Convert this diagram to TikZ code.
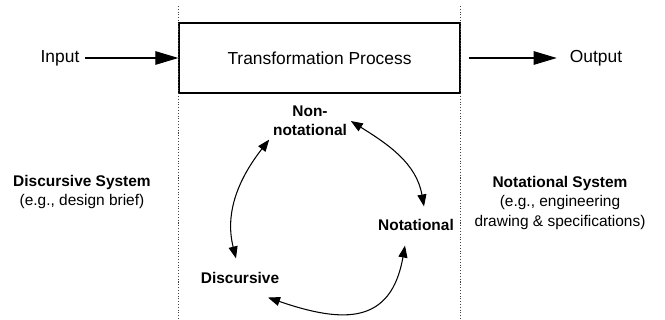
\documentclass[tikz,border=0pt]{standalone}
\usepackage{fontspec}
\setmainfont{Liberation Sans}
\usepackage{tikz}
\usetikzlibrary{arrows.meta,positioning}
\tikzset{>=latex}
\tikzset{
  toprow/.style={font=\fontsize{9.9}{11.5}\selectfont, inner sep=3.3pt},
  procbox/.style={draw, line width=0.75pt, minimum width=5.62cm, minimum height=1.4cm, toprow},
  stage/.style={font=\bfseries\fontsize{8.8}{10.6}\selectfont, align=center, inner sep=2pt},
  sysnote/.style={font=\fontsize{8.8}{11.2}\selectfont, align=center},
  divider/.style={densely dotted, line width=0.6pt, black!75},
  flow/.style={line width=0.6pt, -{Triangle[length=4.6mm,width=2.7mm]}},
  cyc/.style={line width=0.6pt, {Triangle[length=2.4mm,width=1.8mm]}-{Triangle[length=2.4mm,width=1.8mm]}}
}

\begin{document}
\begin{tikzpicture}[x=0.02cm,y=-0.02cm]
    \useasboundingbox (0,0) rectangle (665,320);

    \node [procbox] (proc) at (319.5,58) {Transformation Process};
    \node [toprow] (input) at (60,58) {Input};
    \node [toprow] (output) at (596,58) {Output};

    \draw [divider] (proc.west |- 0,6) -- (proc.west |- 0,320);
    \draw [divider] (proc.east |- 0,6) -- (proc.east |- 0,320);

    \draw [flow] (input) -- (proc);
    \draw [flow, shorten <=4.5pt, shorten >=4pt] (proc) -- (output);

    % the three kinds of representation
    \node [stage] (nonnot) at (310,121) {Non-\\notational};
    \node [stage] (notat) at (416,225) {Notational};
    \node [stage] (disc) at (240,278) {Discursive};

    \draw [cyc] (nonnot.south west) to[out=-128,in=104] ([xshift=-0.8mm,yshift=2mm]disc.north);
    \draw [cyc] (nonnot.east) to[out=-32,in=100] ([xshift=1.6mm,yshift=1.8mm]notat.north);
    \draw [cyc] ([xshift=5.6mm,yshift=-2mm]disc.south) to[out=-19,in=-100,looseness=1.4] ([xshift=-2.2mm,yshift=-2.2mm]notat.south);

    \node [sysnote] (dsys) at (82,192) {\textbf{Discursive System}\\(e.g., design brief)};
    \node [sysnote] (nsys) at (560,203) {\textbf{Notational System}\\(e.g., engineering\\drawing \& specifications)};
\end{tikzpicture}
\end{document}
